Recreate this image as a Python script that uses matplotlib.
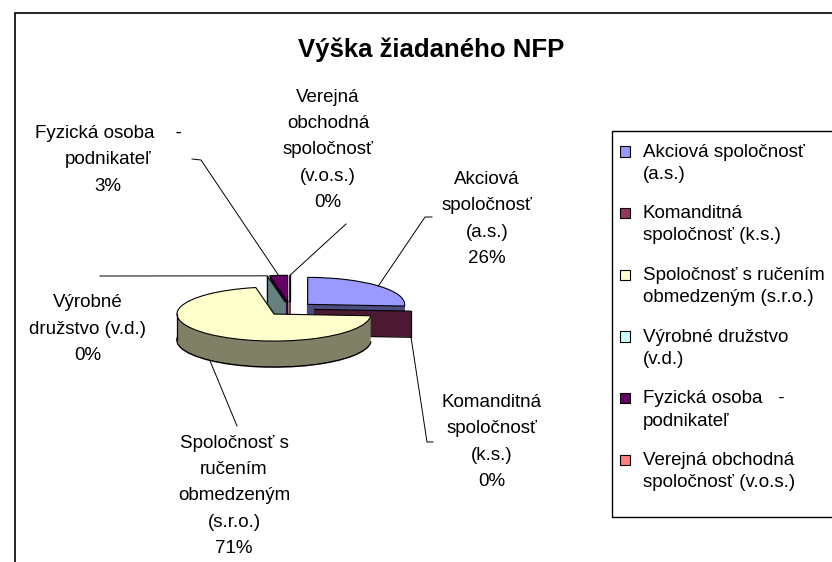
import numpy as np
import matplotlib
matplotlib.use("Agg")
import matplotlib.pyplot as plt
from matplotlib.patches import Rectangle, Patch
from matplotlib.legend_handler import HandlerPatch

plt.rcParams['font.family'] = ['Liberation Sans', 'DejaVu Sans']

# ----------------------------
# Data
# ----------------------------
title = "Výška žiadaného NFP"
legend_labels = [
    "Akciová spoločnosť\n(a.s.)",
    "Komanditná\nspoločnosť (k.s.)",
    "Spoločnosť s ručením\nobmedzeným (s.r.o.)",
    "Výrobné družstvo\n(v.d.)",
    "Fyzická osoba   -\npodnikateľ",
    "Verejná obchodná\nspoločnosť (v.o.s.)",
]
slice_labels = [
    "Akciová\nspoločnosť\n(a.s.)",
    "Komanditná\nspoločnosť\n(k.s.)",
    "Spoločnosť s\nručením\nobmedzeným\n(s.r.o.)",
    "Výrobné\ndružstvo (v.d.)",
    "Fyzická osoba    -\npodnikateľ",
    "Verejná\nobchodná\nspoločnosť\n(v.o.s.)",
]
values = [26, 0, 71, 0, 3, 0]

top_colors = ["#9999FF", "#993366", "#FFFFCC", "#CCFFFF", "#660066", "#FF8080"]
side_colors = ["#4C4C80", "#4C1933", "#808066", "#668080", "#330033", "#804040"]

# ----------------------------
# Layout (pixels, from top-left)
# ----------------------------
W, H = 832, 562
CX, CY = 290, 309
RX, RY = 97, 27
DEPTH = 26
EXPLODE = 0.25
FS = 13.5

# label centre, leader start, optional stub end
label_pos = [(487, 219), (492, 442), (234, 496), (88, 329), (108, 160), (328, 150)]
leader_start = [(432, 217), (433, 442), (237, 426), (100, 276), (192, 159), (346, 224)]
leader_stub = [(425, 217), (427, 442), None, None, (201, 160), None]


def px(x, y):
    return (x - CX) / RX, (CY - y) / RY


fig = plt.figure(figsize=(W / 100, H / 100), dpi=100)
ax = fig.add_axes([0, 0, 1, 1])

explode = [EXPLODE] * len(values)
depth = DEPTH / RY

# side walls: stack of shifted pies
for i in range(DEPTH, 0, -1):
    d = depth * i / DEPTH
    wedges, _ = ax.pie(values, colors=side_colors, startangle=90, counterclock=False,
                       explode=explode, center=(0, -d), radius=1)
    for w, v, c in zip(wedges, values, side_colors):
        if i == DEPTH:
            w.set_edgecolor("black")
            w.set_linewidth(1.1)
        elif v == 0:
            w.set_edgecolor(c)
            w.set_linewidth(1.3)
        else:
            w.set_linewidth(0)

# slice angles
total = sum(values)
starts, ends = [], []
theta = 90.0
for v in values:
    starts.append(theta)
    theta -= 360.0 * v / total
    ends.append(theta)

# vertical wall edges: left silhouette and outer edges of the empty slices
for v, a1, a2 in zip(values, starts, ends):
    tm = np.deg2rad((a1 + a2) / 2)
    ox, oy = EXPLODE * np.cos(tm), EXPLODE * np.sin(tm)
    edges = []
    if v == 0:
        edges.append(np.deg2rad(a1))
    elif a2 <= -180 <= a1 or a2 <= 180 <= a1:
        edges.append(np.pi)
    for e in edges:
        x = ox + np.cos(e)
        y = oy + np.sin(e)
        ax.plot([x, x], [y, y - depth], color="black", lw=0.9, zorder=1.5)

# top faces
ax.pie(values, colors=top_colors, startangle=90, counterclock=False, explode=explode,
       radius=1, wedgeprops=dict(edgecolor="black", linewidth=0.8))

ax.set_aspect("auto")
ax.set_xlim(-CX / RX, (W - CX) / RX)
ax.set_ylim(-(H - CY) / RY, CY / RY)
ax.axis("off")

# ----------------------------
# Data labels with leader lines
# ----------------------------
for i, v in enumerate(values):
    tm = np.deg2rad((starts[i] + ends[i]) / 2)
    tx = EXPLODE * np.cos(tm) + np.cos(tm)
    ty = EXPLODE * np.sin(tm) + np.sin(tm)
    if np.sin(tm) < 0:
        ty -= depth

    pts = [px(*leader_start[i])]
    if leader_stub[i] is not None:
        pts.append(px(*leader_stub[i]))
    pts.append((tx, ty))
    xs, ys = zip(*pts)
    ax.plot(xs, ys, color="black", lw=0.7)

    lx, ly = px(*label_pos[i])
    ax.text(lx, ly, f"{slice_labels[i]}\n{v}%", ha="center", va="center",
            multialignment="center", fontsize=FS, linespacing=1.72)

# ----------------------------
# Title, frame, legend
# ----------------------------
fig.text(431 / W, 1 - 50 / H, title, ha="center", va="center",
         fontsize=18.5, fontweight="bold")

fig.add_artist(Rectangle((15 / W, -0.1), 1.2, 1.1 - 13 / H, transform=fig.transFigure,
                         fill=False, edgecolor="black", lw=1.2))

# legend box
fig.add_artist(Rectangle((612 / W, 1 - 517 / H), 0.5, (517 - 131) / H,
                         transform=fig.transFigure, facecolor="white",
                         edgecolor="black", lw=1.0))


def top_square(legend, orig_handle, xdescent, ydescent, width, height, fontsize):
    s = 0.56 * fontsize
    return Rectangle((-xdescent, -ydescent + height / 2 + 0.62 * fontsize - s / 2), s, s)


handles = [Patch(facecolor=c, edgecolor="black", linewidth=0.8) for c in top_colors]
leg = fig.legend(handles, legend_labels, loc="upper left",
                 bbox_to_anchor=(612 / W, 1 - 136 / H), borderaxespad=0,
                 fontsize=FS, frameon=False, handlelength=0.6, handleheight=0.6,
                 handletextpad=0.63, borderpad=0.4, labelspacing=1.2,
                 handler_map={Patch: HandlerPatch(patch_func=top_square)})
for t in leg.get_texts():
    t.set_linespacing(1.40)

fig.savefig("out.png", dpi=100)
